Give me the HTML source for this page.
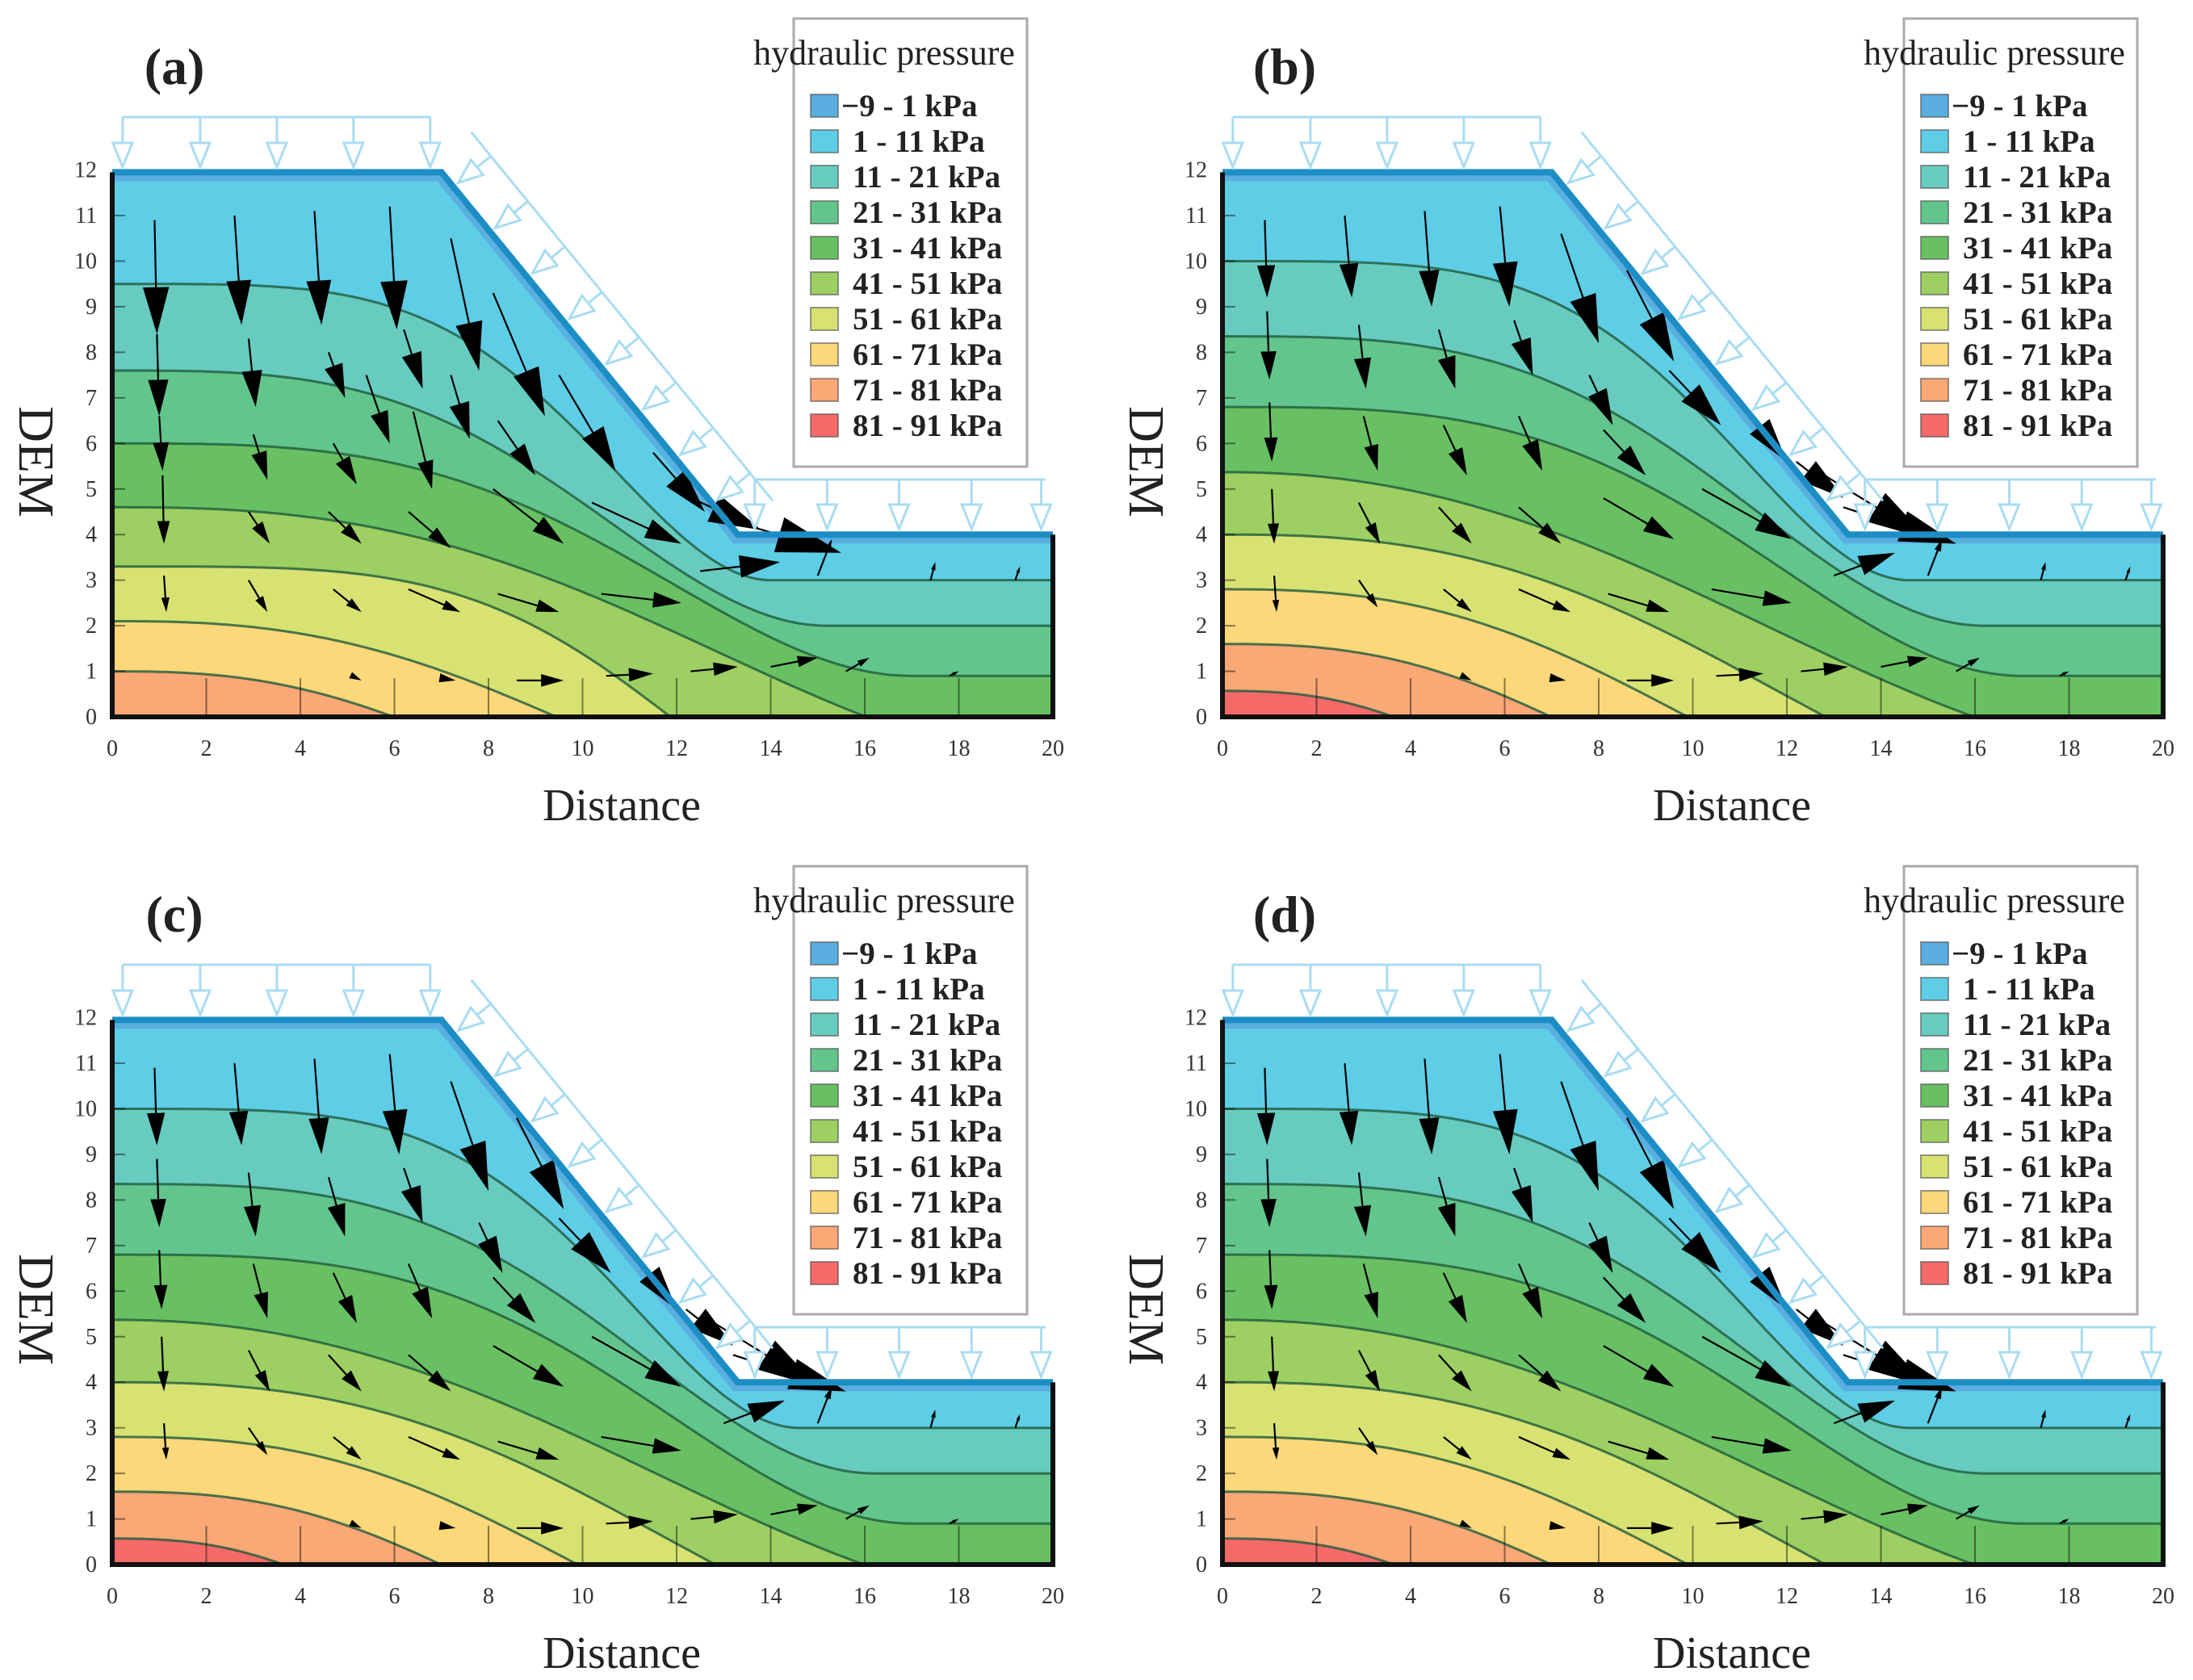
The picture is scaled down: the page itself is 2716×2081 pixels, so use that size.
<!DOCTYPE html>
<html><head><meta charset="utf-8">
<style>
html,body{margin:0;padding:0;background:#fff;}
svg{display:block;}
text{font-family:"Liberation Serif",serif;}
</style></head>
<body>
<svg id="fig" width="2716" height="2081" viewBox="0 0 2716 2081" xmlns="http://www.w3.org/2000/svg"></svg>
<script>
// ---- data ----
const panelLabels = ["(a)","(b)","(c)","(d)"];
const legendLabels = ["\u22129 - 1 kPa","1 - 11 kPa","11 - 21 kPa","21 - 31 kPa","31 - 41 kPa","41 - 51 kPa","51 - 61 kPa","61 - 71 kPa","71 - 81 kPa","81 - 91 kPa"];
const xTicks = [0,2,4,6,8,10,12,14,16,18,20];
const yTicks = [0,1,2,3,4,5,6,7,8,9,10,11,12];
// isolines panel a: left height, right height, transition end x, skew exponent
const isoLeftA = [9.5,7.6,6.0,4.6,3.3,2.1,1.0];
const isoRightA = [3,2,0.9,-1,-2,-2,-2];
const isoEndA = [14,15.2,17,20.6,15.6,15.9,12.3];
const isoSkewA = [2,1.6,1.6,1.3,2,1.3,1.3];
// isolines panels b,c,d
const isoLeftB = [10,8.35,6.8,5.37,4.0,2.8,1.6,0.57];
const isoRightB = [3,2,0.9,-1,-2,-2,-2,-2];
const isoEndB = [14.6,16.2,17,21,18.8,15.6,12.6,8.9];
const isoSkewB = [2,1.6,1.6,1.1,1.3,1.3,1.3,1.3];
// flow vectors: tail x, tail y, head x, head y, head size
const arrowsA = [
[0.9,10.9,0.95,8.4,58],[0.95,8.4,1.0,6.6,45],[1.0,6.6,1.07,5.4,35],[1.07,5.3,1.1,3.8,28],[1.1,3.1,1.15,2.3,18],
[2.6,11.0,2.75,8.6,55],[2.9,8.3,3.05,6.8,45],[3.0,6.2,3.3,5.2,35],[2.9,4.5,3.35,3.8,28],[2.9,3.0,3.3,2.3,20],
[4.3,11.1,4.45,8.6,55],[4.6,8.0,4.95,7.0,42],[4.7,6.0,5.2,5.1,35],[4.6,4.5,5.3,3.8,28],[4.7,2.8,5.3,2.3,20],
[5.9,11.2,6.05,8.5,60],[6.2,8.5,6.6,7.2,45],[5.4,7.5,5.9,6.0,40],[6.4,6.7,6.8,5.0,35],[6.3,4.5,7.2,3.7,30],[6.3,2.8,7.4,2.3,22],
[7.2,10.5,7.8,7.6,60],[7.2,7.5,7.6,6.1,45],[8.1,9.3,9.2,6.6,60],[8.2,6.5,9.0,5.3,40],[8.1,5.0,9.6,3.8,40],[8.2,2.7,9.5,2.3,28],
[9.5,7.5,10.7,5.4,55],[10.2,4.7,12.1,3.8,45],[10.4,2.7,12.1,2.5,35],[11.5,5.8,12.6,4.5,55],[12.1,4.9,13.8,4.1,65],
[13.5,4.2,15.5,3.6,80],[12.5,3.2,14.2,3.4,50],[15.0,3.1,15.3,3.9,15],[17.4,3.0,17.5,3.4,10],[19.2,3.0,19.3,3.3,8],
[5.1,0.9,5.3,0.8,15],[7.0,0.85,7.3,0.8,20],[8.6,0.8,9.6,0.8,28],[10.5,0.9,11.5,0.95,30],[12.3,1.0,13.3,1.1,30],
[14.0,1.1,15.0,1.3,25],[15.6,1.0,16.1,1.3,15],[17.8,0.9,18.0,1.0,8]
];
const arrowsB = [
[0.9,10.9,0.95,9.2,40],[0.95,8.9,1.0,7.4,35],[1.0,6.9,1.05,5.6,30],[1.05,5.0,1.1,3.8,25],[1.1,3.1,1.15,2.3,15],
[2.6,11.0,2.75,9.2,42],[2.9,8.6,3.05,7.2,38],[3.0,6.6,3.3,5.4,32],[2.9,4.7,3.35,3.8,26],[2.9,3.0,3.3,2.4,18],
[4.3,11.1,4.45,9.0,45],[4.6,8.5,4.95,7.2,40],[4.7,6.4,5.2,5.3,34],[4.6,4.6,5.3,3.8,28],[4.7,2.8,5.3,2.3,20],
[5.9,11.2,6.1,9.0,55],[6.2,8.7,6.6,7.5,45],[6.3,6.6,6.8,5.4,38],[6.3,4.6,7.2,3.8,30],[6.3,2.8,7.4,2.3,22],
[7.2,10.6,8.0,8.2,60],[7.8,7.5,8.3,6.4,45],[8.1,6.3,9.0,5.3,40],[8.1,4.8,9.6,3.9,38],[8.2,2.7,9.5,2.3,28],
[8.6,9.8,9.6,7.8,60],[9.5,7.6,10.6,6.4,55],[10.2,5.0,12.1,3.9,45],[10.4,2.8,12.1,2.5,35],[10.8,7.2,12.0,5.6,55],
[12.2,5.6,13.2,4.8,55],[12.8,5.3,15.0,3.9,75],[13.2,4.6,15.6,3.8,70],[13.0,3.1,14.3,3.6,45],
[15.0,3.1,15.3,3.9,15],[17.4,3.0,17.5,3.4,10],[19.2,3.0,19.3,3.3,8],
[5.1,0.9,5.3,0.8,15],[7.0,0.85,7.3,0.8,20],[8.6,0.8,9.6,0.8,28],[10.5,0.9,11.5,0.95,30],[12.3,1.0,13.3,1.1,30],
[14.0,1.1,15.0,1.3,25],[15.6,1.0,16.1,1.3,15],[17.8,0.9,18.0,1.0,8]
];
const bandColors = ["#5aaee0","#5ecde6","#67cbc0","#62c58c","#68c062","#9dcf62","#d8e272","#fcd87a","#f9a876","#f66a6a"];
// ---- drawing ----
const NS="http://www.w3.org/2000/svg";
const svg=document.getElementById('fig');
function mk(tag,attrs,parent){const e=document.createElementNS(NS,tag);for(const k in attrs)e.setAttribute(k,attrs[k]);(parent||svg).appendChild(e);return e;}
const XS=58.25, YS=56.45;
const CREST=7.0, TOE=13.3, TOPY=11.95, LOWY=4.0;
function surf(x){if(x<=CREST)return TOPY;if(x>=TOE)return LOWY;return TOPY-(TOPY-LOWY)*(x-CREST)/(TOE-CREST);}
function iso(x,L,R,b,p){let t=Math.max(0,Math.min(1,x/b));const s=Math.pow(t,p);const g=(1+Math.cos(Math.PI*s))/2;return R+(L-R)*g;}

function panel(idx,ox,oy,isoL,isoR,isoB,isoP,arrows){
  const X=x=>ox+139+XS*x, Y=y=>oy+888-YS*y;
  const g=mk('g',{},svg);
  
  
  const cid='clip'+idx;
  const defs=mk('defs',{},g);
  const cp=mk('clipPath',{id:cid},defs);
  const dom=[[0,0],[0,TOPY],[CREST,TOPY],[TOE,LOWY],[20,LOWY],[20,0]];
  mk('polygon',{points:dom.map(p=>X(p[0])+','+Y(p[1])).join(' ')},cp);
  const fills=mk('g',{'clip-path':'url(#'+cid+')'},g);
  
  
  const n=isoL.length;
  mk('rect',{x:X(0),y:Y(13),width:XS*20,height:YS*14,fill:bandColors[n+1]},fills);
  const linePaths=[];
  for(let k=n-1;k>=0;k--){
    let pts=[];
    for(let x=0;x<=20.001;x+=0.1){pts.push([X(x),Y(iso(x,isoL[k],isoR[k],isoB[k],isoP[k]))]);}
    const d='M'+pts.map(p=>p[0].toFixed(1)+','+p[1].toFixed(1)).join(' L');
    const area=mk('path',{d:d+' L'+X(20)+','+Y(13)+' L'+X(0)+','+Y(13)+' Z',fill:bandColors[k+1]},fills);
    
    
    linePaths.push(d);
  }
  linePaths.forEach(d=>{const l=mk('path',{d:d,fill:'none',stroke:'#1f5a3c','stroke-opacity':'0.8','stroke-width':3},fills);
    
    });
  let sp=[];for(let x=0;x<=20.001;x+=0.1){sp.push(X(x).toFixed(1)+','+Y(surf(x)).toFixed(1));}
  const sd='M'+sp.join(' L');
  const layer=mk('path',{d:sd,fill:'none',stroke:bandColors[0],'stroke-width':22},fills);
  
  
  for(let i=1;i<10;i++){mk('line',{x1:X(2*i),y1:Y(0),x2:X(2*i),y2:Y(0.85),stroke:'#000','stroke-opacity':0.45,'stroke-width':2},fills);}
  for(let j=0;j<=12;j++){mk('line',{x1:X(0),y1:Y(j),x2:X(0)+16,y2:Y(j),stroke:'#000','stroke-opacity':0.45,'stroke-width':2},fills);}
  const ag=mk('g',{},g);
  
  
  arrows.forEach(a=>{
    const x1=X(a[0]),y1=Y(a[1]),x2=X(a[2]),y2=Y(a[3]),s=a[4];
    const dx=x2-x1,dy=y2-y1,len=Math.hypot(dx,dy)||1,ux=dx/len,uy=dy/len;
    const bx=x2-ux*s,by=y2-uy*s,w=s*0.28;
    const ln=mk('line',{x1:x1,y1:y1,x2:bx,y2:by,stroke:'#000','stroke-width':2.2},ag);
    
    
    const tri=mk('polygon',{points:`${x2},${y2} ${bx-uy*w},${by+ux*w} ${bx+uy*w},${by-ux*w}`,fill:'#000'},ag);
    
    
  });
  mk('path',{d:sd,fill:'none',stroke:'#1d8ec4','stroke-width':8},g);
  mk('polyline',{points:[[0,TOPY],[0,0],[20,0],[20,LOWY]].map(p=>X(p[0])+','+Y(p[1])).join(' '),fill:'none',stroke:'#111','stroke-width':6},g);
  const lg=mk('g',{stroke:'#a9dcf2','stroke-width':3,fill:'#fff'},g);
  
  
  function loadArrow(tx,ty,nx,ny,L){
    const sx=tx-nx*L, sy=ty-ny*L, hb=30, hw=12;
    const bx=tx-nx*hb, by=ty-ny*hb;
    mk('line',{x1:sx,y1:sy,x2:bx,y2:by},lg);
    mk('polygon',{points:`${tx},${ty} ${bx-ny*hw},${by+nx*hw} ${bx+ny*hw},${by-nx*hw}`},lg);
  }
  const topX=[0.22,1.87,3.5,5.13,6.76];
  mk('line',{x1:X(0.22),y1:oy+145,x2:X(6.76),y2:oy+145},lg);
  topX.forEach(x=>loadArrow(X(x),oy+207,0,1,62));
  const lowX=[13.66,15.2,16.73,18.27,19.75];
  mk('line',{x1:X(13.66),y1:oy+594,x2:X(19.85),y2:oy+594},lg);
  lowX.forEach(x=>loadArrow(X(x),oy+655,0,1,61));
  const p1=[X(CREST),Y(TOPY)],p2=[X(TOE),Y(LOWY)];
  let vx=p2[0]-p1[0],vy=p2[1]-p1[1];const vl=Math.hypot(vx,vy);vx/=vl;vy/=vl;
  const nx=-vy,ny=vx;
  const off=8, L=52;
  for(let i=0;i<8;i++){const t=0.04+i*0.125;const tx=p1[0]+vx*vl*t-nx*off,ty=p1[1]+vy*vl*t-ny*off;loadArrow(tx,ty,nx,ny,L);}
  mk('line',{x1:p1[0]-nx*(L+off)-vx*15,y1:p1[1]-ny*(L+off)-vy*15,x2:p2[0]-nx*(L+off)-vx*5,y2:p2[1]-ny*(L+off)-vy*5},lg);
  xTicks.forEach(v=>{const t=mk('text',{x:X(v),y:oy+936,'font-size':28,'text-anchor':'middle',fill:'#333'},g);t.textContent=v;
    });
  yTicks.forEach(v=>{const t=mk('text',{x:ox+120,y:Y(v)+9,'font-size':28,'text-anchor':'end',fill:'#333'},g);t.textContent=v;
    });
  const xt=mk('text',{x:ox+770,y:oy+1016,'font-size':56,'text-anchor':'middle',fill:'#222'},g);xt.textContent='Distance';
  
  const yt=mk('text',{x:0,y:0,'font-size':62,'text-anchor':'middle',fill:'#222',transform:`translate(${ox+24},${oy+572}) rotate(90)`},g);yt.textContent='DEM';
  
  const pl=mk('text',{x:ox+216,y:oy+104,'font-size':64,'font-weight':'bold','text-anchor':'middle',fill:'#222'},g);pl.textContent=panelLabels[idx];
  
  const leg=mk('g',{},g);
  
  
  mk('rect',{x:ox+983,y:oy+23,width:289,height:555,fill:'#fff',stroke:'#aaa','stroke-width':3},leg);
  const lt=mk('text',{x:ox+1095,y:oy+80,'font-size':44,'text-anchor':'middle',fill:'#222'},leg);lt.textContent='hydraulic pressure';
  
  legendLabels.forEach((lab,i)=>{
    const cy=oy+131+i*44;
    const e=mk('g',{},leg);
    
    
    mk('rect',{x:ox+1004,y:cy-14,width:34,height:28,fill:bandColors[i],stroke:'#555','stroke-opacity':0.6,'stroke-width':2},e);
    const t=mk('text',{x:ox+(i===0?1042:1056),y:cy+13,'font-size':39,'font-weight':'bold',fill:'#222'},e);t.textContent=lab;
  });
}
panel(0,0,0,isoLeftA,isoRightA,isoEndA,isoSkewA,arrowsA);
panel(1,1375,0,isoLeftB,isoRightB,isoEndB,isoSkewB,arrowsB);
panel(2,0,1050,isoLeftB,isoRightB,isoEndB,isoSkewB,arrowsB);
panel(3,1375,1050,isoLeftB,isoRightB,isoEndB,isoSkewB,arrowsB);
</script>
</body></html>
